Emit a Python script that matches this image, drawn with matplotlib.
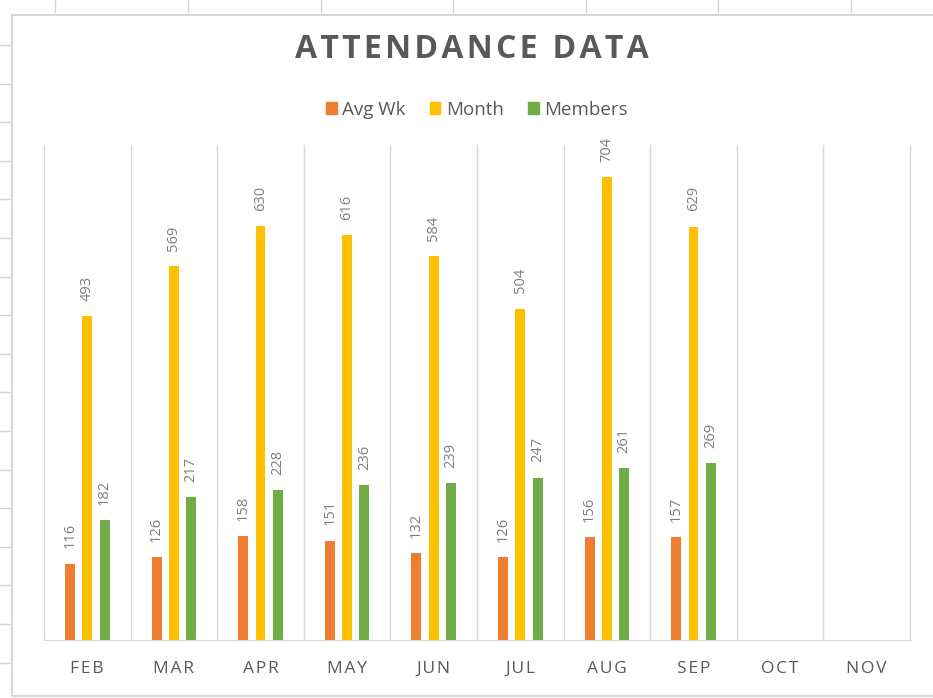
import matplotlib
matplotlib.use('Agg')
import matplotlib.pyplot as plt
from matplotlib.lines import Line2D
from matplotlib.patches import Rectangle, Patch
import numpy as np

plt.rcParams['font.family'] = ['Open Sans', 'DejaVu Sans']

months = ['FEB', 'MAR', 'APR', 'MAY', 'JUN', 'JUL', 'AUG', 'SEP', 'OCT', 'NOV']
avg_wk = [116, 126, 158, 151, 132, 126, 156, 157]
month_total = [493, 569, 630, 616, 584, 504, 704, 629]
members = [182, 217, 228, 236, 239, 247, 261, 269]

series = [('Avg Wk', avg_wk, '#ED7D31'),
          ('Month', month_total, '#FFC000'),
          ('Members', members, '#70AD47')]

W, H = 933, 698
fig = plt.figure(figsize=(W / 100, H / 100), dpi=100)

# spreadsheet cells behind the chart
grid_c = '#D4D4D4'
for x in [55, 188, 321, 453, 586, 718, 851]:
    fig.add_artist(Line2D([x / W, x / W], [1, 1 - 12 / H], color=grid_c, lw=1))
for y in np.arange(45, 698, 38.6):
    fig.add_artist(Line2D([0, 10 / W], [1 - y / H, 1 - y / H], color=grid_c, lw=1))
fig.add_artist(Rectangle((12 / W, 2 / H), 1, 1 - 17 / H, transform=fig.transFigure,
                         fill=False, edgecolor='#D0D0D0', lw=1.2))

ax = fig.add_axes([44 / W, 58 / H, 866 / W, 495 / H])

x = np.arange(len(months))
offsets = [-0.2, 0, 0.2]
for (name, vals, col), off in zip(series, offsets):
    xs = x[:len(vals)] + off
    ax.bar(xs, vals, width=0.115, color=col, label=name, zorder=3)
    for xi, v in zip(xs, vals):
        ax.annotate(str(v), (xi, v), xytext=(0, 11), textcoords='offset points',
                    rotation=90, ha='center', va='bottom', fontsize=10.5,
                    color='#7F7F7F')

ax.set_xlim(-0.5, len(months) - 0.5)
ax.set_ylim(0, 753)
ax.set_yticks([])
ax.set_xticks(x)
ax.set_xticklabels(['\u200a'.join(m) for m in months], fontsize=12.5, color='#595959')
ax.tick_params(axis='x', length=0, pad=15)
for b in np.arange(-0.5, len(months)):
    ax.axvline(b, color='#D9D9D9', lw=1, zorder=0, clip_on=False)
for s in ['top', 'left', 'right']:
    ax.spines[s].set_visible(False)
ax.spines['bottom'].set_color('#D9D9D9')

title = '\u200a'.join('ATTENDANCE') + '\u200a \u200a' + '\u200a'.join('DATA')
fig.text(472 / W, 1 - 50 / H, title, ha='center', va='center',
         fontsize=23, fontweight='bold', color='#595959')

handles = [Patch(color=c, label=n) for n, _, c in series]
fig.legend(handles=handles, loc='center', bbox_to_anchor=(477 / W, 1 - 110 / H),
           ncol=3, frameon=False, fontsize=13.5, handlelength=0.55, handleheight=0.6,
           handletextpad=0.3, columnspacing=1.3, labelcolor='#595959')

fig.savefig('out.png', dpi=100)
